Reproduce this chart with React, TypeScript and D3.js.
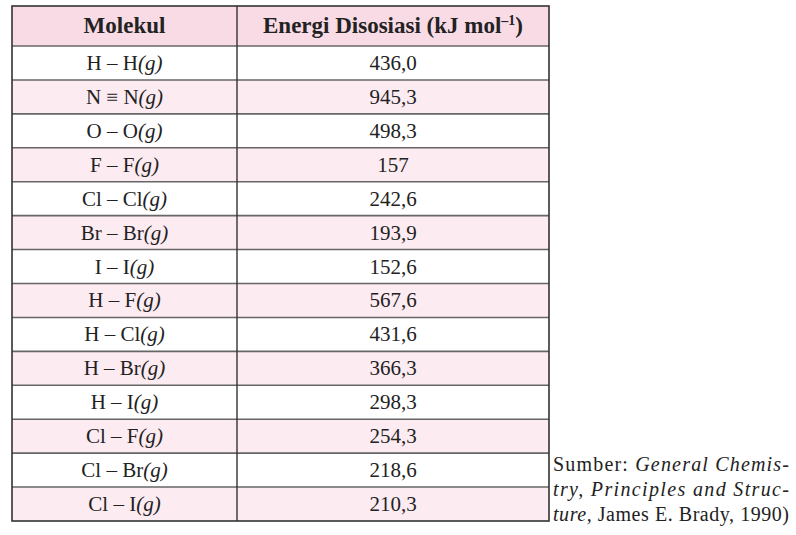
import * as d3 from "d3";

// Molecules (the "(g)" state suffix is appended in italics when drawn)
const molecules = [
  "H – H",
  "N ≡ N",
  "O – O",
  "F – F",
  "Cl – Cl",
  "Br – Br",
  "I – I",
  "H – F",
  "H – Cl",
  "H – Br",
  "H – I",
  "Cl – F",
  "Cl – Br",
  "Cl – I",
];

const energies = [
  "436,0",
  "945,3",
  "498,3",
  "157",
  "242,6",
  "193,9",
  "152,6",
  "567,6",
  "431,6",
  "366,3",
  "298,3",
  "254,3",
  "218,6",
  "210,3",
];

const headers = ["Molekul", "Energi Disosiasi (kJ mol"];

const W = 796;
const H = 535;
const left = 12;
const right = 549;
const divider = 237;
const top = 6;
const headBottom = 46;
const bottom = 521;

const serif = "Liberation Serif, Times New Roman, serif";

export default function App() {
  const rows = molecules.map((m, i) => ({ m, e: energies[i], i }));
  const y = d3
    .scaleBand<number>()
    .domain(rows.map((r) => r.i))
    .range([headBottom, bottom]);
  const col1 = (left + divider) / 2;
  const col2 = (divider + right) / 2;

  return (
    <svg
      width={W}
      height={H}
      viewBox={`0 0 ${W} ${H}`}
      style={{ position: "absolute", left: 0, top: 0, background: "#fff" }}
      fontFamily={serif}
    >
      {/* header band */}
      <rect x={left} y={top} width={right - left} height={headBottom - top} fill="#f9dbe6" />
      {rows.map((r) => (
        <rect
          key={`bg${r.i}`}
          x={left}
          y={y(r.i)}
          width={right - left}
          height={y.bandwidth()}
          fill={r.i % 2 === 1 ? "#fdebf2" : "#ffffff"}
        />
      ))}

      {/* row separators */}
      {rows.map((r) => (
        <line
          key={`ln${r.i}`}
          x1={left}
          x2={right}
          y1={y(r.i)}
          y2={y(r.i)}
          stroke="#666"
          strokeWidth={1.6}
        />
      ))}
      <line x1={divider} x2={divider} y1={top} y2={bottom} stroke="#333" strokeWidth={1.4} />
      <rect
        x={left}
        y={top}
        width={right - left}
        height={bottom - top}
        fill="none"
        stroke="#333"
        strokeWidth={1.6}
      />

      {/* header text */}
      <text x={col1} y={(top + headBottom) / 2 + 7} textAnchor="middle" fontWeight="bold" fontSize={23} fill="#222">
        {headers[0]}
      </text>
      <text x={col2} y={(top + headBottom) / 2 + 7} textAnchor="middle" fontWeight="bold" fontSize={23} fill="#222">
        {headers[1]}
        <tspan fontSize={14} dy={-8}>–1</tspan>
        <tspan dy={8}>)</tspan>
      </text>

      {/* body text */}
      {rows.map((r) => {
        const cy = (y(r.i) ?? 0) + y.bandwidth() / 2 + 7;
        return (
          <g key={`t${r.i}`} fontSize={21} fill="#222">
            <text x={col1} y={cy} textAnchor="middle">
              {r.m}
              <tspan fontStyle="italic">(g)</tspan>
            </text>
            <text x={col2} y={cy} textAnchor="middle">
              {r.e}
            </text>
          </g>
        );
      })}

      {/* source note */}
      <g fontSize={20} fill="#222">
        <text x={553} y={471} textLength={236} lengthAdjust="spacing">
          Sumber: <tspan fontStyle="italic">General Chemis-</tspan>
        </text>
        <text x={553} y={496} textLength={236} lengthAdjust="spacing" fontStyle="italic">
          try, Principles and Struc-
        </text>
        <text x={553} y={521} textLength={236} lengthAdjust="spacing">
          <tspan fontStyle="italic">ture,</tspan> James E. Brady, 1990)
        </text>
      </g>
    </svg>
  );
}
